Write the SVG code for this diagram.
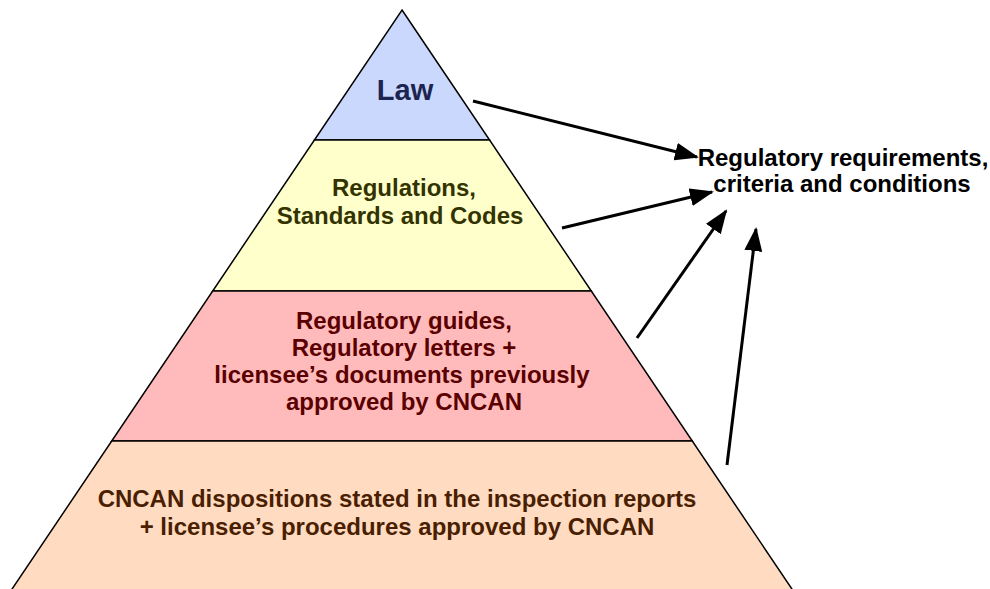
<svg xmlns="http://www.w3.org/2000/svg" width="990" height="589" viewBox="0 0 990 589">
<style>
.layer{stroke:#000;stroke-width:1.5;stroke-linejoin:miter}
.t{font-family:"Liberation Sans",Arial,sans-serif;font-weight:bold;text-anchor:middle}
.conn{stroke:#000;stroke-width:3;fill:none;marker-end:url(#ah)}
</style>
<defs>
<marker id="ah" markerUnits="userSpaceOnUse" markerWidth="24" markerHeight="18" viewBox="0 0 24 18" refX="22" refY="9" orient="auto">
<path d="M0,0 L24,9 L0,18 Z" fill="#000"/>
</marker>
</defs>
<rect width="990" height="589" fill="#fff"/>
<g id="layer-law">
<polygon class="layer" points="402,10 489.6,140 314.4,140" fill="#C9D8FC"/>
<text class="t" x="405" y="100" font-size="29" fill="#1C2450">Law</text>
</g>
<g id="layer-regulations">
<polygon class="layer" points="314.4,140 489.6,140 591.3,291 212.7,291" fill="#FFFFCC"/>
<text class="t" x="404" y="196" font-size="24" fill="#333300">Regulations,</text>
<text class="t" x="400" y="224" font-size="24" fill="#333300">Standards and Codes</text>
</g>
<g id="layer-guides">
<polygon class="layer" points="212.7,291 591.3,291 692.3,441 111.7,441" fill="#FFBBBB"/>
<text class="t" fill="#5A0000" font-size="24"><tspan x="404" y="329">Regulatory guides,</tspan><tspan x="404" y="356">Regulatory letters +</tspan><tspan x="402" y="383">licensee’s documents previously</tspan><tspan x="404" y="410">approved by CNCAN</tspan></text>
</g>
<g id="layer-dispositions">
<polygon class="layer" points="111.7,441 692.3,441 800,601 4,601" fill="#FFDBC2"/>
<text class="t" fill="#4A1E00" font-size="24"><tspan x="397" y="507">CNCAN dispositions stated in the inspection reports</tspan><tspan x="397" y="535">+ licensee’s procedures approved by CNCAN</tspan></text>
</g>
<g id="requirements">
<text class="t" fill="#000" font-size="24"><tspan x="843" y="166">Regulatory requirements,</tspan><tspan x="842" y="192">criteria and conditions</tspan></text>
</g>
<g id="connectors">
<line class="conn" x1="473" y1="101" x2="697" y2="157"/>
<line class="conn" x1="562" y1="228" x2="712" y2="192"/>
<line class="conn" x1="637" y1="338" x2="726" y2="211"/>
<line class="conn" x1="727" y1="465" x2="756" y2="229"/>
</g>
</svg>
